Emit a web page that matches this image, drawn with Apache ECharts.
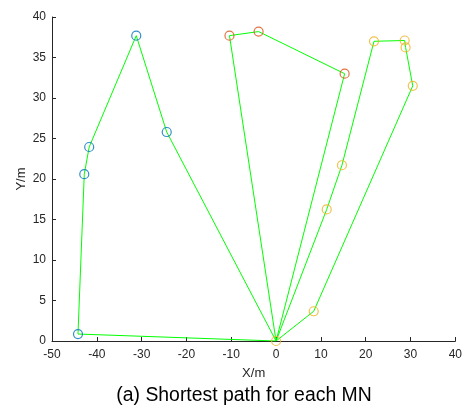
<!DOCTYPE html>
<html><head><meta charset="utf-8">
<script src="https://cdn.jsdelivr.net/npm/echarts@6/dist/echarts.min.js"></script>
<style>html,body{margin:0;padding:0;background:#fff}#c{width:465px;height:407px}</style>
</head><body><div id="c"></div>
<script>
// Data (X/m, Y/m)
const bluePath = [[0,0],[-24.4,25.8],[-31.2,37.7],[-41.7,23.95],[-42.8,20.6],[-44.2,0.86],[0,0]];
const bluePoints = [[-24.4,25.8],[-31.2,37.7],[-41.7,23.95],[-42.8,20.6],[-44.2,0.86]];
const redPath = [[0,0],[-10.4,37.7],[-3.9,38.2],[15.3,33.0],[0,0]];
const redPoints = [[-10.4,37.7],[-3.9,38.2],[15.3,33.0]];
const orangePath = [[0,0],[11.3,16.25],[14.7,21.7],[21.85,37.0],[28.7,37.1],[28.9,36.25],[30.5,31.5],[8.4,3.67],[0,0]];
const orangePoints = [[0,0],[11.3,16.25],[14.7,21.7],[21.85,37.0],[28.7,37.1],[28.9,36.25],[30.5,31.5],[8.4,3.67]];
const xTicks = {min:-50,max:40,interval:10};
const yTicks = {min:0,max:40,interval:5};
const titleText = '(a) Shortest path for each MN';

const font = 'Liberation Sans, Arial, Helvetica, sans-serif';
const axisColor = '#262626';
const green = '#00ff00';
function lineS(d){return {type:'line',data:d,symbol:'none',lineStyle:{color:green,width:1},z:2,animation:false};}
function ptS(d,c){return {type:'scatter',data:d,symbol:'circle',symbolSize:9,itemStyle:{color:'transparent',borderColor:c,borderWidth:1.2},z:3,animation:false};}
const chart = echarts.init(document.getElementById('c'),null,{renderer:'canvas'});
const axisCommon = {
  axisLine:{show:true,onZero:false,lineStyle:{color:axisColor,width:1}},
  axisTick:{show:true,inside:true,length:4,lineStyle:{color:axisColor}},
  splitLine:{show:false},
  nameMoveOverlap:false,
  nameTextStyle:{color:axisColor,fontSize:13,fontFamily:font}
};
chart.setOption({
  animation:false,
  backgroundColor:'#fff',
  grid:{left:52,right:7.6,top:17,bottom:66,containLabel:false},
  xAxis:Object.assign({type:'value',min:xTicks.min,max:xTicks.max,interval:xTicks.interval,name:'X/m',nameLocation:'middle',nameGap:26},axisCommon,{axisLabel:{color:axisColor,fontSize:12,fontFamily:font,margin:8}}),
  yAxis:Object.assign({type:'value',min:yTicks.min,max:yTicks.max,interval:yTicks.interval,name:'Y/m',nameLocation:'middle',nameGap:24},axisCommon,{axisLabel:{color:axisColor,fontSize:12,fontFamily:font,margin:6}}),
  graphic:[{type:'text',x:244,y:396,style:{text:titleText,fontSize:19.4,fontFamily:font,fill:'#000',align:'center',verticalAlign:'middle'}}],
  series:[lineS(bluePath),lineS(redPath),lineS(orangePath),ptS(bluePoints,'#0072BD'),ptS(redPoints,'#D95319'),ptS(orangePoints,'#EDB120')]
});
</script></body></html>
